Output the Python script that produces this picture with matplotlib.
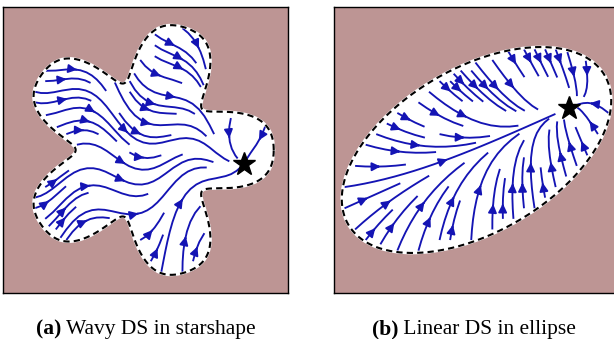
import numpy as np
import matplotlib
matplotlib.use("Agg")
import matplotlib.pyplot as plt

# ---- shape / dynamics parameters ----
star_center = [0.0, 0.0]
star_r0 = 0.735         # mean radius of star shape
star_amp = 0.205        # lobe amplitude
star_amp2 = 0.04        # lobe rounding (2nd harmonic)
star_lobes = 5
star_attractor = [0.69, -0.10]
wave_amp = 0.6          # rotation amplitude (rad) of wavy DS
wave_k = 8.0            # wave number

ell_center = [0.0, 0.0]
ell_axes = [1.04, 0.575]
ell_angle_deg = 30.0
ell_attractor = [0.65, 0.295]
lin_eigs = [-1.0, -3.5]
lin_angle_deg = 24.0

captions_bold = ["(a)", "(b)"]
captions_text = [" Wavy DS in starshape", " Linear DS in ellipse"]

bg_color = "#bd9594"
line_color = "#1414b4"

W, H = 614, 339
fig = plt.figure(figsize=(W / 100, H / 100), dpi=100)
ax1 = fig.add_axes([3 / W, (H - 293) / H, 285 / W, 286 / H])
ax2 = fig.add_axes([334 / W, (H - 293) / H, 285 / W, 286 / H])

n = 300
xs = np.linspace(-1, 1, n)
X, Y = np.meshgrid(xs, xs)


def star_radius(t):
    return (star_r0 + star_amp * np.cos(star_lobes * t)
            - star_amp2 * np.cos(2 * star_lobes * t))


# ---------- panel a ----------
th = np.linspace(0, 2 * np.pi, 800)
r = star_radius(th)
bx = star_center[0] + r * np.cos(th)
by = star_center[1] + r * np.sin(th)

TH = np.arctan2(Y - star_center[1], X - star_center[0])
RR = np.hypot(X - star_center[0], Y - star_center[1])
inside1 = RR < star_radius(TH)

dx = -(X - star_attractor[0])
dy = -(Y - star_attractor[1])
dist = np.hypot(dx, dy)
ang = wave_amp * np.sin(wave_k * X) * np.tanh(dist / 0.25)
u = dx * np.cos(ang) - dy * np.sin(ang)
v = dx * np.sin(ang) + dy * np.cos(ang)
u = np.where(inside1, u, np.nan)
v = np.where(inside1, v, np.nan)

ax1.set_facecolor(bg_color)
ax1.fill(bx, by, color="white", zorder=1)
ax1.streamplot(X, Y, u, v, density=0.95, color=line_color, linewidth=1.35,
               arrowsize=1.25, zorder=2)
ax1.plot(bx, by, color="white", lw=2.0, zorder=3)
ax1.plot(bx, by, color="black", lw=1.5, ls=(0, (3, 2)), zorder=4)
ax1.plot(*star_attractor, marker="*", ms=17, color="black", zorder=5)

# ---------- panel b ----------
phi = np.deg2rad(ell_angle_deg)
ex = ell_center[0] + ell_axes[0] * np.cos(th) * np.cos(phi) - ell_axes[1] * np.sin(th) * np.sin(phi)
ey = ell_center[1] + ell_axes[0] * np.cos(th) * np.sin(phi) + ell_axes[1] * np.sin(th) * np.cos(phi)

Xl = (X - ell_center[0]) * np.cos(phi) + (Y - ell_center[1]) * np.sin(phi)
Yl = -(X - ell_center[0]) * np.sin(phi) + (Y - ell_center[1]) * np.cos(phi)
inside2 = (Xl / ell_axes[0]) ** 2 + (Yl / ell_axes[1]) ** 2 < 1

psi = np.deg2rad(lin_angle_deg)
R = np.array([[np.cos(psi), -np.sin(psi)], [np.sin(psi), np.cos(psi)]])
A = R @ np.diag(lin_eigs) @ R.T
px = X - ell_attractor[0]
py = Y - ell_attractor[1]
u2 = A[0, 0] * px + A[0, 1] * py
v2 = A[1, 0] * px + A[1, 1] * py
u2 = np.where(inside2, u2, np.nan)
v2 = np.where(inside2, v2, np.nan)

ax2.set_facecolor(bg_color)
ax2.fill(ex, ey, color="white", zorder=1)
ax2.streamplot(X, Y, u2, v2, density=0.95, color=line_color, linewidth=1.35,
               arrowsize=1.25, zorder=2)
ax2.plot(ex, ey, color="white", lw=2.0, zorder=3)
ax2.plot(ex, ey, color="black", lw=1.5, ls=(0, (3, 2)), zorder=4)
ax2.plot(*ell_attractor, marker="*", ms=17, color="black", zorder=5)

for ax in (ax1, ax2):
    ax.set_xlim(-1, 1)
    ax.set_ylim(-1, 1)
    ax.set_xticks([])
    ax.set_yticks([])
    for s in ax.spines.values():
        s.set_linewidth(1.0)

# captions
font = "Liberation Serif"
for cx, b, t in [(146, captions_bold[0], captions_text[0]),
                 (474, captions_bold[1], captions_text[1])]:
    tb = fig.text(0, 0, b, fontsize=15.5, fontweight="bold", family=font)
    tt = fig.text(0, 0, t, fontsize=15.5, family=font)
    fig.canvas.draw()
    r1 = fig.canvas.get_renderer()
    wb = tb.get_window_extent(r1).width
    wt = tt.get_window_extent(r1).width
    x0 = cx - (wb + wt) / 2
    tb.set_position((x0 / W, (H - 334) / H))
    tt.set_position(((x0 + wb) / W, (H - 334) / H))

fig.savefig("out.png", dpi=100)
